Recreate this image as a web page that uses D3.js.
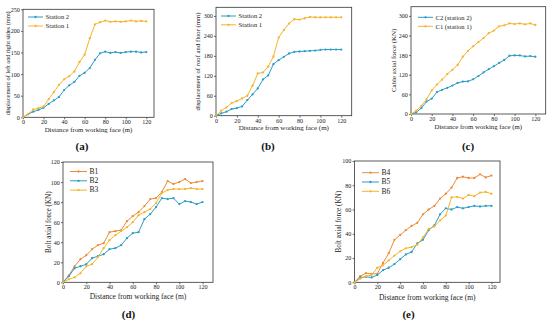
<!DOCTYPE html>
<html>
<head>
<meta charset="utf-8">
<script src="https://cdn.jsdelivr.net/npm/d3@7"></script>
<style>
  body { margin: 0; background: #fff; }
  svg { display: block; font-family: "Liberation Serif", "Times New Roman", serif; }
</style>
</head>
<body>
<div id="chart"></div>
<script>
// distance from working face (m), shared by every series
var distance = [0, 5, 10, 15, 20, 25, 30, 35, 40, 45, 50, 55, 60, 65, 70, 75, 80, 85, 90, 95, 100, 105, 110, 115, 120];

// (a) displacement of left and right sides (mm)
var aStation2 = [0, 7, 13, 17, 22, 31, 39, 47, 63, 74, 82, 96, 103, 114, 133, 148, 152, 149, 151, 149, 151, 152, 152, 150, 151];
var aStation1 = [0, 8, 18, 21, 25, 42, 58, 75, 88, 95, 106, 128, 145, 183, 215, 220, 224, 221, 222, 221, 222, 224, 222, 223, 222];

// (b) displacement of roof and floor (mm)
var bStation2 = [0, 7, 12, 20, 23, 28, 47, 64, 82, 109, 121, 155, 167, 177, 187, 192, 193, 194, 195, 196, 198, 199, 199, 199, 199];
var bStation1 = [0, 15, 25, 38, 44, 52, 60, 90, 127, 130, 148, 178, 235, 258, 277, 290, 289, 293, 297, 296, 296, 296, 296, 296, 296];

// (c) cable axial force (KN)
var cC2 = [0, 5, 18, 38, 47, 67, 74, 80, 87, 95, 99, 100, 106, 116, 127, 137, 146, 156, 165, 178, 179, 179, 176, 177, 175];
var cC1 = [0, 10, 25, 45, 72, 90, 105, 122, 135, 150, 175, 193, 207, 220, 232, 247, 255, 268, 271, 277, 275, 277, 274, 277, 272];

// (d) bolt axial force (KN)
var dB1 = [0, 7, 16, 23, 27, 33, 37, 39, 50, 51, 52, 61, 66, 70, 76, 83, 84, 90, 101, 98, 100, 103, 99, 100, 101];
var dB2 = [0, 6, 14, 16, 18, 24, 26, 28, 33, 34, 37, 44, 49, 50, 63, 68, 75, 84, 83, 84, 78, 81, 80, 78, 80];
var dB3 = [0, 3, 5, 9, 16, 18, 25, 34, 42, 47, 51, 55, 60, 67, 70, 73, 79, 89, 92, 93, 93, 93, 94, 93, 93];

// (e) bolt axial force (KN)
var eB4 = [0, 5, 7.5, 7, 7, 16, 24, 35, 39, 43, 46.5, 49, 56, 60, 63, 69, 73, 78, 86, 87, 86, 86, 89, 86.5, 88];
var eB5 = [0, 4, 4.5, 4, 6, 10, 12, 15, 19, 23, 25, 32, 35, 43, 47, 56, 61, 60, 62, 61, 62, 63, 62.5, 63, 63];
var eB6 = [0, 3, 5, 6, 12, 14, 18, 22, 25.5, 28, 29, 31, 37, 44, 46, 51, 55, 70, 70.5, 69, 72, 71, 74, 74.5, 73];

var xTicks = [0, 20, 40, 60, 80, 100, 120];

var blue = "#2a9dc6", yellow = "#f4b42c", orange = "#ee8a35";

var panels = [
  { tag: "(a)", box: [23, 9.3, 154, 117.3], xMax: 127.5, yMax: 250, yTicks: [0, 50, 100, 150, 200, 250],
    ylabel: "displacement of left and right sides (mm)", ylabelX: 7.5, ylabelSize: 6.3,
    lx: 28, ly: 17, lgap: 9, llen: 15, legendSize: 6.6,
    tagPos: [82, 150], xlabelY: 131.6, xlabelSize: 6.8,
    series: [{ name: "Station 2", values: aStation2, color: blue }, { name: "Station 1", values: aStation1, color: yellow }] },
  { tag: "(b)", box: [216, 7.3, 351.7, 115.7], xMax: 130, yMax: 326, yTicks: [0, 60, 120, 180, 240, 300],
    ylabel: "displacement of roof and floor (mm)", ylabelX: 197.5, ylabelSize: 6.7,
    lx: 221, ly: 16, lgap: 8.8, llen: 15, legendSize: 6.6,
    tagPos: [268, 150], xlabelY: 130.3, xlabelSize: 7,
    series: [{ name: "Station 2", values: bStation2, color: blue }, { name: "Station 1", values: bStation1, color: yellow }] },
  { tag: "(c)", box: [411, 6.7, 545.7, 114], xMax: 130, yMax: 328, yTicks: [0, 60, 120, 180, 240, 300],
    ylabel: "Cable axial force (KN)", ylabelX: 394, ylabelSize: 6.9,
    lx: 418, ly: 17.3, lgap: 9, llen: 15, legendSize: 6.6,
    tagPos: [468, 150], xlabelY: 128.8, xlabelSize: 6.8,
    series: [{ name: "C2 (station 2)", values: cC2, color: blue }, { name: "C1 (station 1)", values: cC1, color: yellow }] },
  { tag: "(d)", box: [63, 162, 213, 282.3], xMax: 129, yMax: 120, yTicks: [0, 20, 40, 60, 80, 100, 120],
    ylabel: "Bolt axial force (KN)", ylabelX: 48.5, ylabelSize: 7.2,
    lx: 70, ly: 171.5, lgap: 9.3, llen: 17, legendSize: 7.5,
    tagPos: [128.5, 318], xlabelY: 298.5, xlabelSize: 7.5,
    series: [{ name: "B1", values: dB1, color: orange }, { name: "B2", values: dB2, color: blue }, { name: "B3", values: dB3, color: yellow }] },
  { tag: "(e)", box: [354.5, 161, 500, 282.3], xMax: 127.5, yMax: 100, yTicks: [0, 20, 40, 60, 80, 100],
    ylabel: "Bolt axial force (KN)", ylabelX: 338.5, ylabelSize: 7.2,
    lx: 362, ly: 172.7, lgap: 9.3, llen: 17, legendSize: 7.5,
    tagPos: [408.5, 318], xlabelY: 299.5, xlabelSize: 7.5,
    series: [{ name: "B4", values: eB4, color: orange }, { name: "B5", values: eB5, color: blue }, { name: "B6", values: eB6, color: yellow }] }
];

var svg = d3.select("#chart").append("svg")
    .attr("width", 550)
    .attr("height", 324);

panels.forEach(function(p) {
  var left = p.box[0], top = p.box[1], right = p.box[2], bottom = p.box[3];
  var x = d3.scaleLinear().domain([0, p.xMax]).range([left, right]);
  var y = d3.scaleLinear().domain([0, p.yMax]).range([bottom, top]);
  var g = svg.append("g");

  // axes (outward ticks, Origin style)
  var xAxis = g.append("g").attr("transform", "translate(0," + bottom + ")")
      .call(d3.axisBottom(x).tickValues(xTicks).tickSize(2).tickPadding(0.5));
  var yAxis = g.append("g").attr("transform", "translate(" + left + ",0)")
      .call(d3.axisLeft(y).tickValues(p.yTicks).tickSize(2).tickPadding(1.2));
  [xAxis, yAxis].forEach(function(a) {
    a.select(".domain").remove();
    a.selectAll("line").attr("stroke", "#333").attr("stroke-width", 0.7);
    a.selectAll("text").attr("font-family", "Liberation Serif, serif").attr("font-size", 6.1).attr("fill", "#222");
  });

  // frame
  g.append("rect")
      .attr("x", left).attr("y", top)
      .attr("width", right - left).attr("height", bottom - top)
      .attr("fill", "none").attr("stroke", "#333").attr("stroke-width", 0.8);

  var line = d3.line()
      .x(function(d, i) { return x(distance[i]); })
      .y(function(d) { return y(d); });

  p.series.forEach(function(s, k) {
    g.append("path").datum(s.values)
        .attr("d", line)
        .attr("fill", "none")
        .attr("stroke", s.color)
        .attr("stroke-width", 1);
    g.selectAll(null).data(s.values).enter().append("circle")
        .attr("cx", function(d, i) { return x(distance[i]); })
        .attr("cy", function(d) { return y(d); })
        .attr("r", 1.15)
        .attr("fill", s.color);

    // legend entry
    var ly = p.ly + k * p.lgap;
    g.append("line")
        .attr("x1", p.lx).attr("x2", p.lx + p.llen)
        .attr("y1", ly).attr("y2", ly)
        .attr("stroke", s.color).attr("stroke-width", 1);
    g.append("circle").attr("cx", p.lx + p.llen / 2).attr("cy", ly).attr("r", 1.15).attr("fill", s.color);
    g.append("text")
        .attr("x", p.lx + p.llen + 2.5).attr("y", ly + 2.3)
        .attr("font-size", p.legendSize).attr("fill", "#222")
        .text(s.name);
  });

  // axis titles
  g.append("text")
      .attr("x", (left + right) / 2).attr("y", p.xlabelY)
      .attr("text-anchor", "middle").attr("font-size", p.xlabelSize).attr("fill", "#222")
      .text("Distance from working face (m)");
  g.append("text")
      .attr("transform", "translate(" + p.ylabelX + "," + (top + bottom) / 2 + ") rotate(-90)")
      .attr("text-anchor", "middle").attr("dy", "0.35em").attr("font-size", p.ylabelSize).attr("fill", "#222")
      .text(p.ylabel);

  // panel tag
  g.append("text")
      .attr("x", p.tagPos[0]).attr("y", p.tagPos[1])
      .attr("text-anchor", "middle").attr("font-size", 11).attr("font-weight", "bold").attr("fill", "#111")
      .text(p.tag);
});
</script>
</body>
</html>
